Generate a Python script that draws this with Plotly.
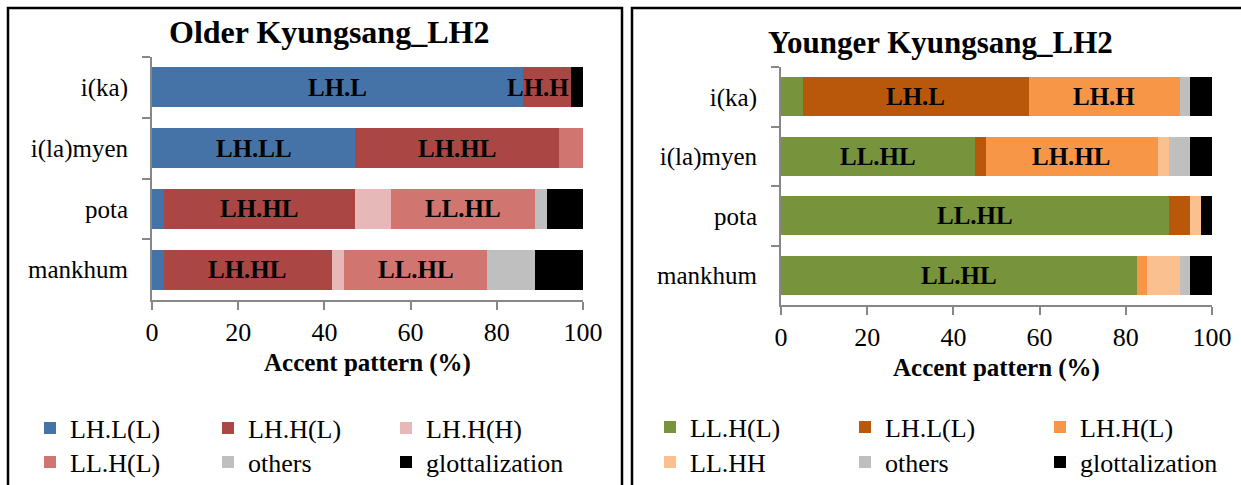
import plotly.graph_objects as go

# ---- data -------------------------------------------------------------
words = ["i(ka)", "i(la)myen", "pota", "mankhum"]

# Older Kyungsang speakers (% of tokens)
older_series = ["LH.L(L)", "LH.H(L)", "LH.H(H)", "LL.H(L)", "others", "glottalization"]
older_lhl = [86.1, 47.2, 2.8, 2.8]
older_lhh_l = [11.1, 47.2, 44.4, 38.9]
older_lhh_h = [0.0, 0.0, 8.3, 2.8]
older_llh = [0.0, 5.6, 33.3, 33.3]
older_others = [0.0, 0.0, 2.8, 11.1]
older_glott = [2.8, 0.0, 8.3, 11.1]
older_colors = ["#4573A7", "#AA4644", "#E6B9B8", "#D0756F", "#BFBFBF", "#000000"]

# Younger Kyungsang speakers (% of tokens)
younger_series = ["LL.H(L)", "LH.L(L)", "LH.H(L)", "LL.HH", "others", "glottalization"]
younger_llh = [5.0, 45.0, 90.0, 82.5]
younger_lhl = [52.5, 2.5, 5.0, 0.0]
younger_lhh = [35.0, 40.0, 0.0, 2.5]
younger_llhh = [0.0, 2.5, 2.5, 7.5]
younger_others = [2.5, 5.0, 0.0, 2.5]
younger_glott = [5.0, 5.0, 2.5, 5.0]
younger_colors = ["#77933C", "#B9580A", "#F79646", "#FAC090", "#BFBFBF", "#000000"]

# segment labels: (word, series, text)
older_labels = [
    ("i(ka)", "LH.L(L)", "LH.L"), ("i(ka)", "LH.H(L)", "LH.H"),
    ("i(la)myen", "LH.L(L)", "LH.LL"), ("i(la)myen", "LH.H(L)", "LH.HL"),
    ("pota", "LH.H(L)", "LH.HL"), ("pota", "LL.H(L)", "LL.HL"),
    ("mankhum", "LH.H(L)", "LH.HL"), ("mankhum", "LL.H(L)", "LL.HL"),
]
younger_labels = [
    ("i(ka)", "LH.L(L)", "LH.L"), ("i(ka)", "LH.H(L)", "LH.H"),
    ("i(la)myen", "LL.H(L)", "LL.HL"), ("i(la)myen", "LH.H(L)", "LH.HL"),
    ("pota", "LL.H(L)", "LL.HL"),
    ("mankhum", "LL.H(L)", "LL.HL"),
]

older_values = [older_lhl, older_lhh_l, older_lhh_h, older_llh, older_others, older_glott]
younger_values = [younger_llh, younger_lhl, younger_lhh, younger_llhh, younger_others, younger_glott]

# ---- layout helpers -----------------------------------------------------
W, H = 1241, 485
FONT = "'Liberation Serif', 'Times New Roman', Times, serif"


def px_x(x):
    return x / W


def px_y(y):
    return 1 - y / H


fig = go.Figure()


def add_panel(series, values, colors, xa, ya, legends, widths):
    for i, (name, vals, col) in enumerate(zip(series, values, colors)):
        fig.add_trace(go.Bar(
            y=words, x=vals, name=name, orientation="h",
            marker=dict(color=col, line=dict(width=0)),
            xaxis=xa, yaxis=ya,
            legend=legends[0] if i < 3 else legends[1],
            legendwidth=widths[i % 3],
            hoverinfo="x+y+name",
        ))


def add_labels(series, values, labels, xref, yref):
    for word, sname, text in labels:
        wi = words.index(word)
        si = series.index(sname)
        start = sum(values[k][wi] for k in range(si))
        width = values[si][wi]
        if width < 15:
            x, anchor = start + width, "right"
        else:
            x, anchor = start + width / 2, "center"
        fig.add_annotation(
            x=x, y=word, xref=xref, yref=yref, text=text, showarrow=False,
            xanchor=anchor, yanchor="middle",
            font=dict(family=FONT, size=25, color="black", weight="bold"),
        )


add_panel(older_series, older_values, older_colors, "x", "y",
          ["legend", "legend2"], [133, 133, 140])
add_panel(younger_series, younger_values, younger_colors, "x2", "y2",
          ["legend3", "legend4"], [150, 150, 140])
add_labels(older_series, older_values, older_labels, "x", "y")
add_labels(younger_series, younger_values, younger_labels, "x2", "y2")

axis_grey = "#878787"
xcommon = dict(
    range=[0, 100], tickvals=[0, 20, 40, 60, 80, 100], showgrid=False, zeroline=False,
    showline=True, linecolor=axis_grey, linewidth=2, ticks="outside", ticklen=8,
    tickwidth=2, tickcolor=axis_grey, fixedrange=True, automargin=False,
    tickfont=dict(family=FONT, size=26, color="black"),
    title=dict(text="<b>Accent pattern (%)</b>", standoff=7,
               font=dict(family=FONT, size=25, color="black")),
)
ycommon = dict(
    categoryorder="array", categoryarray=words, autorange="reversed",
    showgrid=False, zeroline=False, showline=True, linecolor=axis_grey, linewidth=2,
    ticks="outside", ticklen=8, tickwidth=2, tickcolor=axis_grey, tickson="boundaries",
    tickfont=dict(family=FONT, size=25, color="black"), fixedrange=True,
    ticklabelstandoff=17, automargin=False,
)

legend_common = dict(
    orientation="h", xanchor="left", yanchor="middle", bgcolor="rgba(0,0,0,0)",
    font=dict(family=FONT, size=26, color="black"), itemwidth=30,
    entrywidthmode="pixels", traceorder="normal", itemclick=False, itemdoubleclick=False,
)

fig.update_layout(
    width=W, height=H, margin=dict(l=0, r=0, t=0, b=0, autoexpand=False),
    paper_bgcolor="white", plot_bgcolor="white",
    barmode="stack", bargap=0.34, showlegend=True,
    font=dict(family=FONT, color="black"),
    xaxis=dict(domain=[px_x(152), px_x(583)], anchor="y", **xcommon),
    yaxis=dict(domain=[px_y(300), px_y(57)], anchor="x", **ycommon),
    xaxis2=dict(domain=[px_x(781), px_x(1212)], anchor="y2", **xcommon),
    yaxis2=dict(domain=[px_y(305), px_y(67)], anchor="x2", **ycommon),
    legend=dict(x=px_x(30), y=px_y(428), **legend_common),
    legend2=dict(x=px_x(30), y=px_y(462), **legend_common),
    legend3=dict(x=px_x(650), y=px_y(427), **legend_common),
    legend4=dict(x=px_x(650), y=px_y(462), **legend_common),
)

# panel titles
fig.add_annotation(x=px_x(329), y=px_y(32), xref="paper", yref="paper",
                   text="<b>Older Kyungsang_LH2</b>", showarrow=False,
                   xanchor="center", yanchor="middle",
                   font=dict(family=FONT, size=32, color="black"))
fig.add_annotation(x=px_x(940), y=px_y(42), xref="paper", yref="paper",
                   text="<b>Younger Kyungsang_LH2</b>", showarrow=False,
                   xanchor="center", yanchor="middle",
                   font=dict(family=FONT, size=31, color="black"))

# panel frames
for x0, x1 in [(8, 622), (632, 1252)]:
    fig.add_shape(type="rect", xref="paper", yref="paper",
                  x0=px_x(x0), x1=px_x(x1), y0=px_y(495), y1=px_y(8),
                  line=dict(color="black", width=2.5), fillcolor="rgba(0,0,0,0)",
                  layer="below")

fig.write_html("out.html")
